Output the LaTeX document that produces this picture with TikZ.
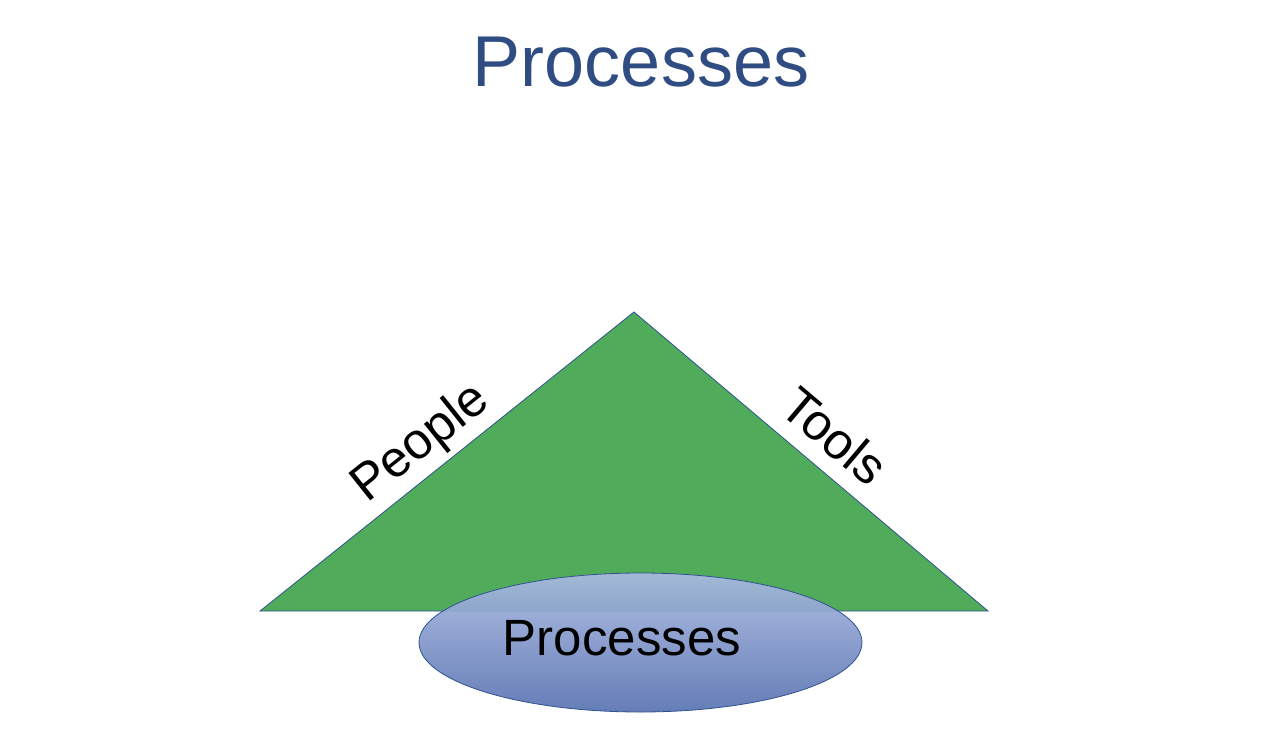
\documentclass[tikz,border=0pt]{standalone}
\usepackage{fontspec}
\setmainfont{Liberation Sans}
\usetikzlibrary{shapes.geometric}
\definecolor{titleblue}{RGB}{47,77,130}
\definecolor{trigreen}{RGB}{80,172,91}
\definecolor{edgeblue}{RGB}{47,82,143}
\definecolor{ellTop}{RGB}{170,186,226}
\definecolor{ellBot}{RGB}{88,114,176}
\tikzset{
  sidelabel/.style={font=\fontsize{51}{60}\selectfont, text=black, inner sep=0pt},
}
\begin{document}
\begin{tikzpicture}[x=1pt,y=-1pt]
\useasboundingbox (0,0) rectangle (1274,750);
% title
\node[font=\fontsize{72}{80}\selectfont, text=titleblue, inner sep=0pt] (title) at (641,62) {Processes};
% triangle
\coordinate (apex) at (634,312);
\coordinate (bl) at (260,611);
\coordinate (br) at (988,611);
\draw[edgeblue, line width=0.8pt, fill=trigreen, line join=miter] (bl) -- (apex) -- (br) -- cycle;
% ellipse
\node[ellipse, draw=edgeblue, line width=0.8pt, minimum width=443pt, minimum height=139pt,
      inner sep=0pt, top color=ellTop, bottom color=ellBot, fill opacity=0.92, text opacity=1] (proc) at (640.5,642.5) {};
\node[sidelabel] (proctext) at (622,638) {Processes};
% side labels
\node[sidelabel, rotate=38.6] (people) at (421,444) {People};
\node[sidelabel, rotate=-40.2] (tools) at (835,436) {Tools};
\end{tikzpicture}
\end{document}
